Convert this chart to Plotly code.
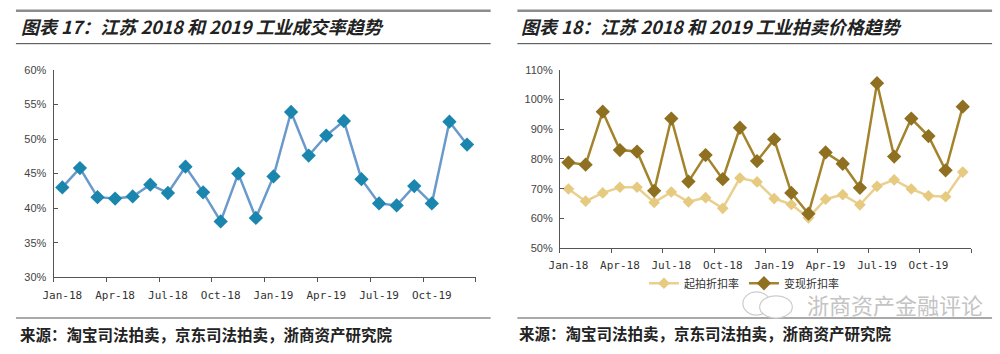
import plotly.graph_objects as go

months = ["Jan-18", "Feb-18", "Mar-18", "Apr-18", "May-18", "Jun-18",
          "Jul-18", "Aug-18", "Sep-18", "Oct-18", "Nov-18", "Dec-18",
          "Jan-19", "Feb-19", "Mar-19", "Apr-19", "May-19", "Jun-19",
          "Jul-19", "Aug-19", "Sep-19", "Oct-19", "Nov-19", "Dec-19"]

# 图表17 工业成交率 (%)
deal_rate = [43.0, 45.8, 41.6, 41.4, 41.7, 43.4, 42.2, 46.0, 42.3, 38.1, 45.0, 38.6,
             44.6, 53.9, 47.6, 50.5, 52.6, 44.2, 40.7, 40.4, 43.2, 40.7, 52.5, 49.2]

# 图表18 起拍折扣率 / 变现折扣率 (%)
start_discount = [69.9, 65.8, 68.6, 70.5, 70.5, 65.4, 68.9, 65.6, 67.0, 63.4, 73.6, 72.3,
                  66.7, 64.7, 60.2, 66.5, 68.0, 64.6, 70.8, 73.0, 69.9, 67.6, 67.3, 75.6]
realize_discount = [78.8, 78.1, 95.9, 83.0, 82.5, 69.3, 93.6, 72.4, 81.3, 73.2, 90.5, 79.3,
                    86.6, 68.6, 61.6, 82.2, 78.4, 70.3, 105.5, 80.8, 93.6, 87.7, 76.2, 97.6]

series_names = ["起拍折扣率", "变现折扣率"]
title_left = "图表 17：江苏 2018 和 2019 工业成交率趋势"
title_right = "图表 18：江苏 2018 和 2019 工业拍卖价格趋势"
source_text = "来源：淘宝司法拍卖，京东司法拍卖，浙商资产研究院"
watermark = "浙商资产金融评论"

W, H = 1000, 354
def px(x):
    return x / W
def py(y):
    return (H - y) / H

xs = list(range(len(months)))
tick_idx = xs[::3]
tick_txt = [months[i] for i in tick_idx]
boundaries = [i - 0.5 for i in range(0, len(months) + 1, 3)]

fig = go.Figure()

fig.add_trace(go.Scatter(
    x=xs, y=deal_rate, mode="lines+markers", showlegend=False,
    line=dict(color="#6A9ACB", width=2.5),
    marker=dict(symbol="diamond", size=11, color="#1A86AE"),
    xaxis="x", yaxis="y"))

fig.add_trace(go.Scatter(
    x=xs, y=start_discount, mode="lines+markers", name=series_names[0],
    line=dict(color="#E9D08E", width=2.5),
    marker=dict(symbol="diamond", size=9, color="#E5CA80"),
    xaxis="x2", yaxis="y2"))

fig.add_trace(go.Scatter(
    x=xs, y=realize_discount, mode="lines+markers", name=series_names[1],
    line=dict(color="#A3832B", width=2.5),
    marker=dict(symbol="diamond", size=11, color="#8E7020"),
    xaxis="x2", yaxis="y2"))

axis_col = "#555555"
xfont = dict(family="DejaVu Sans Mono", size=11, color="#333333")
yfont = dict(family="Liberation Sans", size=11, color="#444444")

def xaxis_cfg(domain, anchor):
    return dict(
        domain=domain, anchor=anchor, range=[-0.5, len(months) - 0.5],
        showgrid=False, zeroline=False, showline=True, linecolor=axis_col, linewidth=1,
        tickmode="array", tickvals=tick_idx, ticktext=tick_txt, ticks="",
        tickfont=xfont, ticklabelstandoff=7,
        minor=dict(tickmode="array", tickvals=boundaries, ticks="outside",
                   ticklen=4, tickcolor=axis_col, tickwidth=1, showgrid=False),
    )

def yaxis_cfg(domain, anchor, rng, dtick):
    return dict(
        domain=domain, anchor=anchor, range=rng, dtick=dtick, tick0=rng[0],
        showgrid=False, zeroline=False, showline=True, linecolor=axis_col, linewidth=1,
        ticks="inside", ticklen=4, tickcolor=axis_col, ticksuffix="%",
        tickfont=yfont, ticklabelstandoff=4,
    )

fig.update_layout(
    width=W, height=H, margin=dict(l=0, r=0, t=0, b=0),
    paper_bgcolor="white", plot_bgcolor="white",
    xaxis=xaxis_cfg([px(43), px(470)], "y"),
    yaxis=yaxis_cfg([py(281), py(66)], "x", [30, 60], 5),
    xaxis2=xaxis_cfg([px(555), px(971)], "y2"),
    yaxis2=yaxis_cfg([py(250.7), py(66)], "x2", [50, 110], 10),
    legend=dict(orientation="h", x=px(640), y=py(287), xanchor="left", yanchor="middle",
                font=dict(family="Noto Sans CJK SC", size=11, color="#333333"),
                bgcolor="rgba(0,0,0,0)", itemwidth=30, tracegroupgap=0),
)

title_font = dict(family="Noto Sans CJK SC", size=18, color="#222222", weight="bold", style="italic")
src_font = dict(family="Noto Sans CJK SC", size=15.5, color="#222222", weight="bold")

annotations = [
    dict(text=title_left, x=px(8), y=py(21), xanchor="left", yanchor="middle", font=title_font),
    dict(text=title_right, x=px(514), y=py(21), xanchor="left", yanchor="middle", font=title_font),
    dict(text=source_text, x=px(7), y=py(339), xanchor="left", yanchor="middle", font=src_font),
    dict(text=source_text, x=px(512), y=py(338), xanchor="left", yanchor="middle", font=src_font),
    dict(text=watermark, x=px(985), y=py(308), xanchor="right", yanchor="middle",
         font=dict(family="Noto Sans CJK SC", size=22, color="#C4C4C4")),
]
for a in annotations:
    a.update(xref="paper", yref="paper", showarrow=False)
fig.update_layout(annotations=annotations)

shapes = [
    # left panel rules
    dict(type="line", x0=px(5), x1=px(485), y0=py(5), y1=py(5), line=dict(color="#8C8C8C", width=2.5)),
    dict(type="line", x0=px(5), x1=px(485), y0=py(39), y1=py(39), line=dict(color="#444444", width=1)),
    dict(type="line", x0=px(5), x1=px(485), y0=py(323), y1=py(323), line=dict(color="#8C8C8C", width=1.5)),
    # right panel rules
    dict(type="line", x0=px(512), x1=px(992), y0=py(5), y1=py(5), line=dict(color="#8C8C8C", width=2.5)),
    dict(type="line", x0=px(512), x1=px(992), y0=py(39), y1=py(39), line=dict(color="#444444", width=1)),
    dict(type="line", x0=px(512), x1=px(992), y0=py(323), y1=py(323), line=dict(color="#8C8C8C", width=1.5)),
    # watermark icon (two bubbles)
    dict(type="circle", x0=px(740), x1=px(768), y0=py(320), y1=py(296), line=dict(color="#CCCCCC", width=1.2)),
    dict(type="circle", x0=px(757), x1=px(790), y0=py(323), y1=py(300), line=dict(color="#CCCCCC", width=1.2),
         fillcolor="white"),
]
for s in shapes:
    s.update(xref="paper", yref="paper")
fig.update_layout(shapes=shapes)

fig.write_html("out.html")
